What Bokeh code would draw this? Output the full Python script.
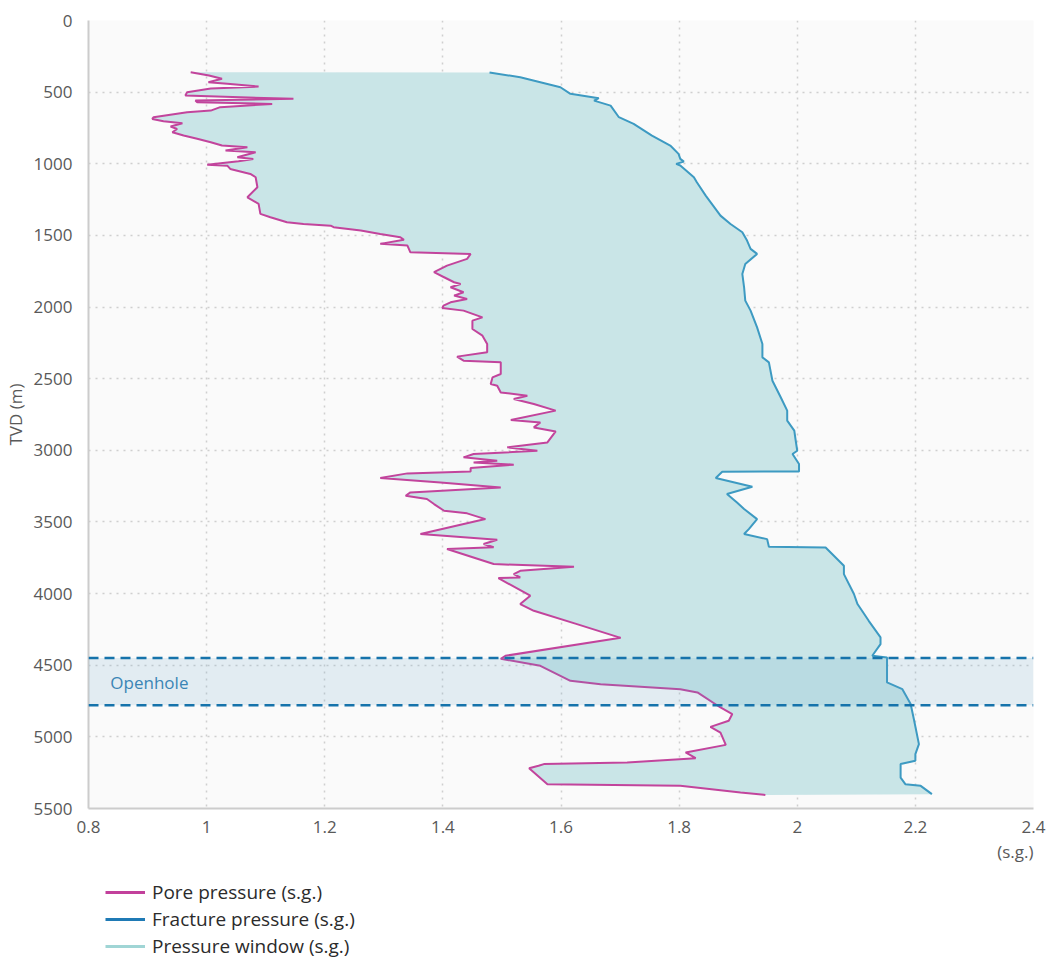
from bokeh.plotting import figure
from bokeh.layouts import column
from bokeh.models import (Range1d, FixedTicker, Legend, LegendItem, Label, Span,
                          BoxAnnotation, Title)
from bokeh.embed import file_html
from bokeh.resources import INLINE

# Pore pressure profile (TVD in m, gradient in s.g.)
pore_tvd = [361, 384, 407, 431, 442, 461, 475, 500, 524, 547, 559, 570, 582, 605, 629,
            640, 675, 687, 703, 717, 740, 757, 780, 803, 826, 850, 873, 885, 908, 920,
            955, 966, 982, 1006, 1013, 1036, 1071, 1094, 1164, 1234, 1280, 1350, 1373,
            1408, 1420, 1432, 1443, 1466, 1490, 1513, 1531, 1559, 1571, 1618, 1629, 1664,
            1711, 1757, 1792, 1827, 1839, 1862, 1897, 1920, 1944, 1967, 1990, 2006, 2025,
            2072, 2095, 2153, 2200, 2258, 2316, 2346, 2374, 2386, 2467, 2491, 2537, 2549,
            2596, 2619, 2642, 2677, 2723, 2789, 2805, 2840, 2868, 2945, 2979, 3003, 3026,
            3049, 3073, 3085, 3100, 3124, 3147, 3161, 3193, 3224, 3259, 3294, 3317, 3340,
            3375, 3422, 3440, 3480, 3584, 3624, 3654, 3677, 3689, 3794, 3813, 3841, 3864,
            3887, 3892, 4015, 4073, 4120, 4213, 4309, 4434, 4455, 4504, 4609, 4632, 4667,
            4690, 4795, 4841, 4888, 4930, 4970, 5056, 5109, 5149, 5179, 5190, 5202, 5219,
            5330, 5342, 5388, 5405]
pore_sg = [0.973, 1.004, 1.026, 1.003, 1.035, 1.088, 1.007, 0.967, 0.964, 1.147, 0.981,
           0.984, 1.111, 1.023, 1.007, 0.967, 0.910, 0.908, 0.927, 0.959, 0.939, 0.950,
           0.942, 0.961, 0.984, 1.007, 1.026, 1.069, 1.032, 1.083, 1.052, 1.079, 1.054,
           1.001, 1.035, 1.040, 1.074, 1.083, 1.086, 1.069, 1.088, 1.091, 1.108, 1.136,
           1.164, 1.210, 1.215, 1.261, 1.294, 1.328, 1.334, 1.294, 1.340, 1.345, 1.447,
           1.441, 1.407, 1.385, 1.402, 1.419, 1.430, 1.413, 1.435, 1.419, 1.441, 1.413,
           1.401, 1.399, 1.435, 1.467, 1.450, 1.450, 1.467, 1.475, 1.475, 1.424, 1.435,
           1.498, 1.498, 1.484, 1.481, 1.492, 1.498, 1.543, 1.520, 1.554, 1.591, 1.515,
           1.565, 1.554, 1.591, 1.577, 1.509, 1.560, 1.452, 1.435, 1.492, 1.452, 1.520,
           1.447, 1.447, 1.340, 1.294, 1.396, 1.498, 1.345, 1.337, 1.373, 1.385, 1.402,
           1.441, 1.472, 1.362, 1.492, 1.469, 1.486, 1.407, 1.486, 1.622, 1.531, 1.520,
           1.531, 1.494, 1.548, 1.531, 1.554, 1.627, 1.701, 1.506, 1.498, 1.565, 1.616,
           1.667, 1.802, 1.831, 1.870, 1.890, 1.884, 1.853, 1.870, 1.879, 1.811, 1.828,
           1.712, 1.571, 1.562, 1.546, 1.577, 1.802, 1.904, 1.946]

# Fracture pressure profile
frac_tvd = [363, 396, 466, 512, 542, 559, 594, 675, 721, 803, 873, 931, 966, 985, 1001,
            1012, 1094, 1129, 1222, 1362, 1420, 1478, 1536, 1594, 1629, 1699, 1769, 1862,
            1955, 2025, 2142, 2258, 2351, 2386, 2514, 2630, 2723, 2793, 2863, 2921, 3003,
            3026, 3096, 3147, 3149, 3193, 3254, 3305, 3364, 3410, 3480, 3550, 3584, 3620,
            3673, 3678, 3806, 3864, 4003, 4073, 4190, 4306, 4353, 4434, 4446, 4620, 4667,
            4771, 4888, 5051, 5121, 5167, 5190, 5284, 5330, 5342, 5400]
frac_sg = [1.479, 1.531, 1.599, 1.616, 1.664, 1.656, 1.684, 1.698, 1.723, 1.754, 1.785,
           1.799, 1.802, 1.808, 1.795, 1.802, 1.825, 1.830, 1.845, 1.870, 1.887, 1.907,
           1.915, 1.921, 1.932, 1.912, 1.907, 1.910, 1.912, 1.921, 1.932, 1.941, 1.941,
           1.952, 1.958, 1.972, 1.983, 1.983, 1.995, 1.997, 2.000, 1.992, 2.003, 2.003,
           1.873, 1.862, 1.924, 1.881, 1.898, 1.910, 1.932, 1.918, 1.910, 1.949, 1.952,
           2.048, 2.079, 2.079, 2.096, 2.102, 2.121, 2.141, 2.141, 2.127, 2.152, 2.152,
           2.178, 2.192, 2.198, 2.206, 2.200, 2.200, 2.175, 2.175, 2.183, 2.209, 2.228]

# Openhole section (TVD, m)
openhole_top = 4450
openhole_base = 4780

x_ticks = [0.8, 1.0, 1.2, 1.4, 1.6, 1.8, 2.0, 2.2, 2.4]
x_tick_labels = ["0.8", "1", "1.2", "1.4", "1.6", "1.8", "2", "2.2", "2.4"]
y_ticks = [0, 500, 1000, 1500, 2000, 2500, 3000, 3500, 4000, 4500, 5000, 5500]

series_names = ["Pore pressure (s.g.)", "Fracture pressure (s.g.)",
                "Pressure window (s.g.)"]

FONT = "Open Sans"
TXT = "#595959"
PORE_C = "#c2449c"
FRAC_C = "#3d9ac2"
WINDOW_C = "#c9e5e7"
LEGEND_COLORS = ["#c2409b", "#1f7ab5", "#a0d5d5"]

W = 1052
MAIN_H = 877
LEGEND_H = 959 - MAIN_H

p = figure(width=W, height=MAIN_H, output_backend="svg", toolbar_location=None,
           x_range=Range1d(0.8, 2.4), y_range=Range1d(5500, 0),
           min_border_left=88, min_border_right=19, min_border_top=20,
           min_border_bottom=69)
p.outline_line_color = None
p.background_fill_color = "#fafafa"
p.border_fill_color = "white"

# pressure window between the two curves
win_x = pore_sg + frac_sg[::-1]
win_y = pore_tvd + frac_tvd[::-1]
p.patch(win_x, win_y, fill_color=WINDOW_C, line_color=None)

# openhole interval
p.add_layout(BoxAnnotation(bottom=openhole_top, top=openhole_base,
                           fill_color="#5b9fc8", fill_alpha=0.15, line_color=None))

p.line(pore_sg, pore_tvd, line_color=PORE_C, line_width=2)
p.line(frac_sg, frac_tvd, line_color=FRAC_C, line_width=2)

for d in (openhole_top, openhole_base):
    p.add_layout(Span(location=d, dimension="width", line_color="#1673ab",
                      line_width=2.5, line_dash="10 6"))

p.add_layout(Label(x=0.837, y=4623, text="Openhole", text_font=FONT,
                   text_font_size="17px", text_color="#3a85b5",
                   text_baseline="middle"))

# axes
p.xaxis.ticker = FixedTicker(ticks=x_ticks)
p.xaxis.major_label_overrides = {t: l for t, l in zip(x_ticks, x_tick_labels)}
p.yaxis.ticker = FixedTicker(ticks=y_ticks)
for ax in (p.xaxis[0], p.yaxis[0]):
    ax.axis_line_color = "#cccccc"
    ax.axis_line_width = 2
    ax.major_tick_line_color = None
    ax.minor_tick_line_color = None
    ax.major_label_text_font = FONT
    ax.major_label_text_font_size = "17px"
    ax.major_label_text_color = TXT
p.xaxis.major_label_standoff = 6
p.yaxis.major_label_standoff = 10
p.yaxis.axis_label = "TVD (m)"
p.yaxis.axis_label_text_font = FONT
p.yaxis.axis_label_text_font_size = "17px"
p.yaxis.axis_label_text_font_style = "normal"
p.yaxis.axis_label_text_color = TXT
p.yaxis.axis_label_standoff = 4

p.xgrid.ticker = FixedTicker(ticks=x_ticks)
p.ygrid.ticker = FixedTicker(ticks=y_ticks)
for g in (p.xgrid[0], p.ygrid[0]):
    g.grid_line_color = "#cfcfcf"
    g.grid_line_dash = "2 5"
    g.grid_line_width = 1.5

# unit note under the right end of the x axis
p.add_layout(Title(text="(s.g.)", align="right", text_font=FONT,
                   text_font_size="17px", text_color=TXT, text_font_style="normal",
                   standoff=9, vertical_align="top"), "below")

# legend strip under the chart; its series sit outside the strip's ranges,
# so only their legend glyphs show
lg = figure(width=W, height=LEGEND_H, output_backend="svg", toolbar_location=None,
            x_range=Range1d(0, 1), y_range=Range1d(0, 1),
            x_axis_location=None, y_axis_location=None,
            min_border_left=0, min_border_right=0, min_border_top=0,
            min_border_bottom=0)
lg.outline_line_color = None
lg.grid.visible = False
lg.background_fill_color = "white"
lg.border_fill_color = "white"

series_xy = [(pore_sg, pore_tvd), (frac_sg, frac_tvd), (frac_sg, frac_tvd)]
items = []
for name, color, (xs, ys) in zip(series_names, LEGEND_COLORS, series_xy):
    r = lg.line(xs, ys, line_color=color, line_width=3)
    items.append(LegendItem(label=name, renderers=[r]))
legend = Legend(items=items, location=(17, 0), orientation="vertical",
                glyph_width=40, glyph_height=20, label_height=20, label_standoff=7,
                spacing=1, padding=0, margin=0, border_line_color=None,
                background_fill_alpha=0, label_text_font=FONT,
                label_text_font_size="19px", label_text_color="#2b2b2b")
lg.add_layout(legend)

open("out.html", "w").write(file_html(column(p, lg, spacing=0), INLINE))
